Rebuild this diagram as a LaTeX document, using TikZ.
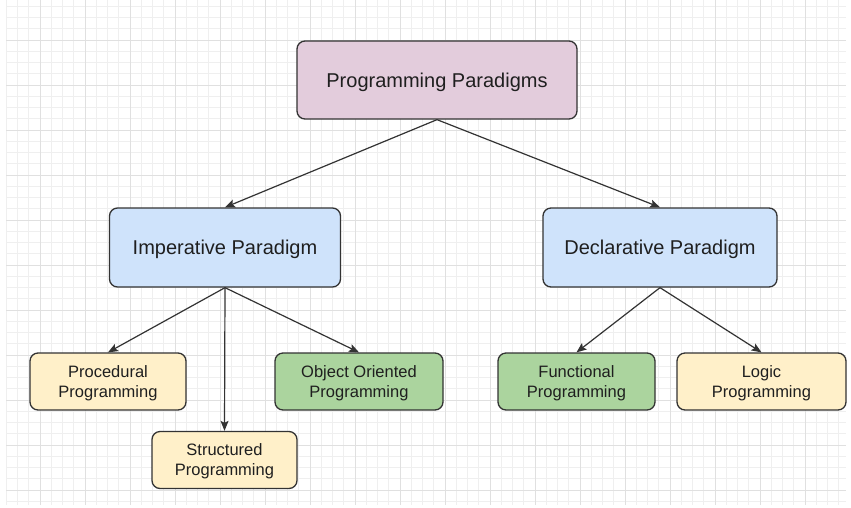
\documentclass[tikz,border=0pt]{standalone}
\usepackage{fontspec}
\setmainfont{Liberation Sans}
\usetikzlibrary{arrows.meta}
\definecolor{gridminor}{HTML}{EFEFEF}
\definecolor{gridmajor}{HTML}{E0E0E0}
\definecolor{edgecol}{HTML}{333333}
\definecolor{pinkfill}{HTML}{E3CCDC}
\definecolor{bluefill}{HTML}{CFE3FB}
\definecolor{yellowfill}{HTML}{FFF0C9}
\definecolor{greenfill}{HTML}{ABD49E}
\tikzset{
  box/.style={draw=edgecol, line width=1.3pt, rounded corners=8pt, align=center,
    text=black!88, inner sep=0pt, text depth=0pt, font=\fontsize{16.5}{20}\selectfont},
  bigbox/.style={box, font=\fontsize{20}{24}\selectfont},
  root/.style={bigbox, fill=pinkfill, minimum width=280pt, minimum height=78pt},
  para/.style={bigbox, fill=bluefill, minimum width=231pt, minimum height=79pt},
  leafy/.style={box, fill=yellowfill, minimum height=57pt},
  leafg/.style={box, fill=greenfill, minimum height=57pt},
  link/.style={draw=edgecol, line width=1.2pt, -{Stealth[length=10pt,width=8pt,inset=2pt]}},
  gridthin/.style={gridminor, line width=0.6pt},
  gridthick/.style={gridmajor, line width=0.8pt},
}
\begin{document}
\begin{tikzpicture}[x=1pt,y=-1pt]
  \useasboundingbox (0,0) rectangle (851,507);
  \fill[white] (0,0) rectangle (851,507);
  % background grid: fine lines every 11.25pt, heavier ones every 45pt
  \foreach \i in {0,...,74} \draw[gridthin] ({6.25+11.25*\i},0) -- ({6.25+11.25*\i},505);
  \foreach \j in {0,...,44} \draw[gridthin] (6.25,{6.25+11.25*\j}) -- (846,{6.25+11.25*\j});
  \foreach \x in {40,85,...,805} \draw[gridthick] (\x,0) -- (\x,505);
  \foreach \y in {40,85,...,490} \draw[gridthick] (6.25,\y) -- (846,\y);

  % nodes
  \node[root] (pp) at (437,80) {Programming Paradigms};
  \node[para] (imp) at (225,247.5) {Imperative Paradigm};
  \node[para, minimum width=234pt] (dec) at (660,247.5) {Declarative Paradigm};
  \node[leafy, minimum width=156pt] (proc) at (108,381.5) {Procedural\\Programming};
  \node[leafy, minimum width=145pt] (struc) at (224.5,460) {Structured\\Programming};
  \node[leafg, minimum width=168pt] (oop) at (359,381.5) {Object Oriented\\Programming};
  \node[leafg, minimum width=157pt] (func) at (576.5,381.5) {Functional\\Programming};
  \node[leafy, minimum width=169pt] (logic) at (761.5,381.5) {Logic\\Programming};

  % connectors
  \draw[link] (pp.south) -- (imp.north);
  \draw[link] (pp.south) -- (dec.north);
  \draw[link] (imp.south) -- (proc.north);
  \draw[link] (imp.south) -- (struc.north);
  \draw[link] (imp.south) -- (oop.north);
  \draw[link] (dec.south) -- (func.north);
  \draw[link] (dec.south) -- (logic.north);
\end{tikzpicture}
\end{document}
